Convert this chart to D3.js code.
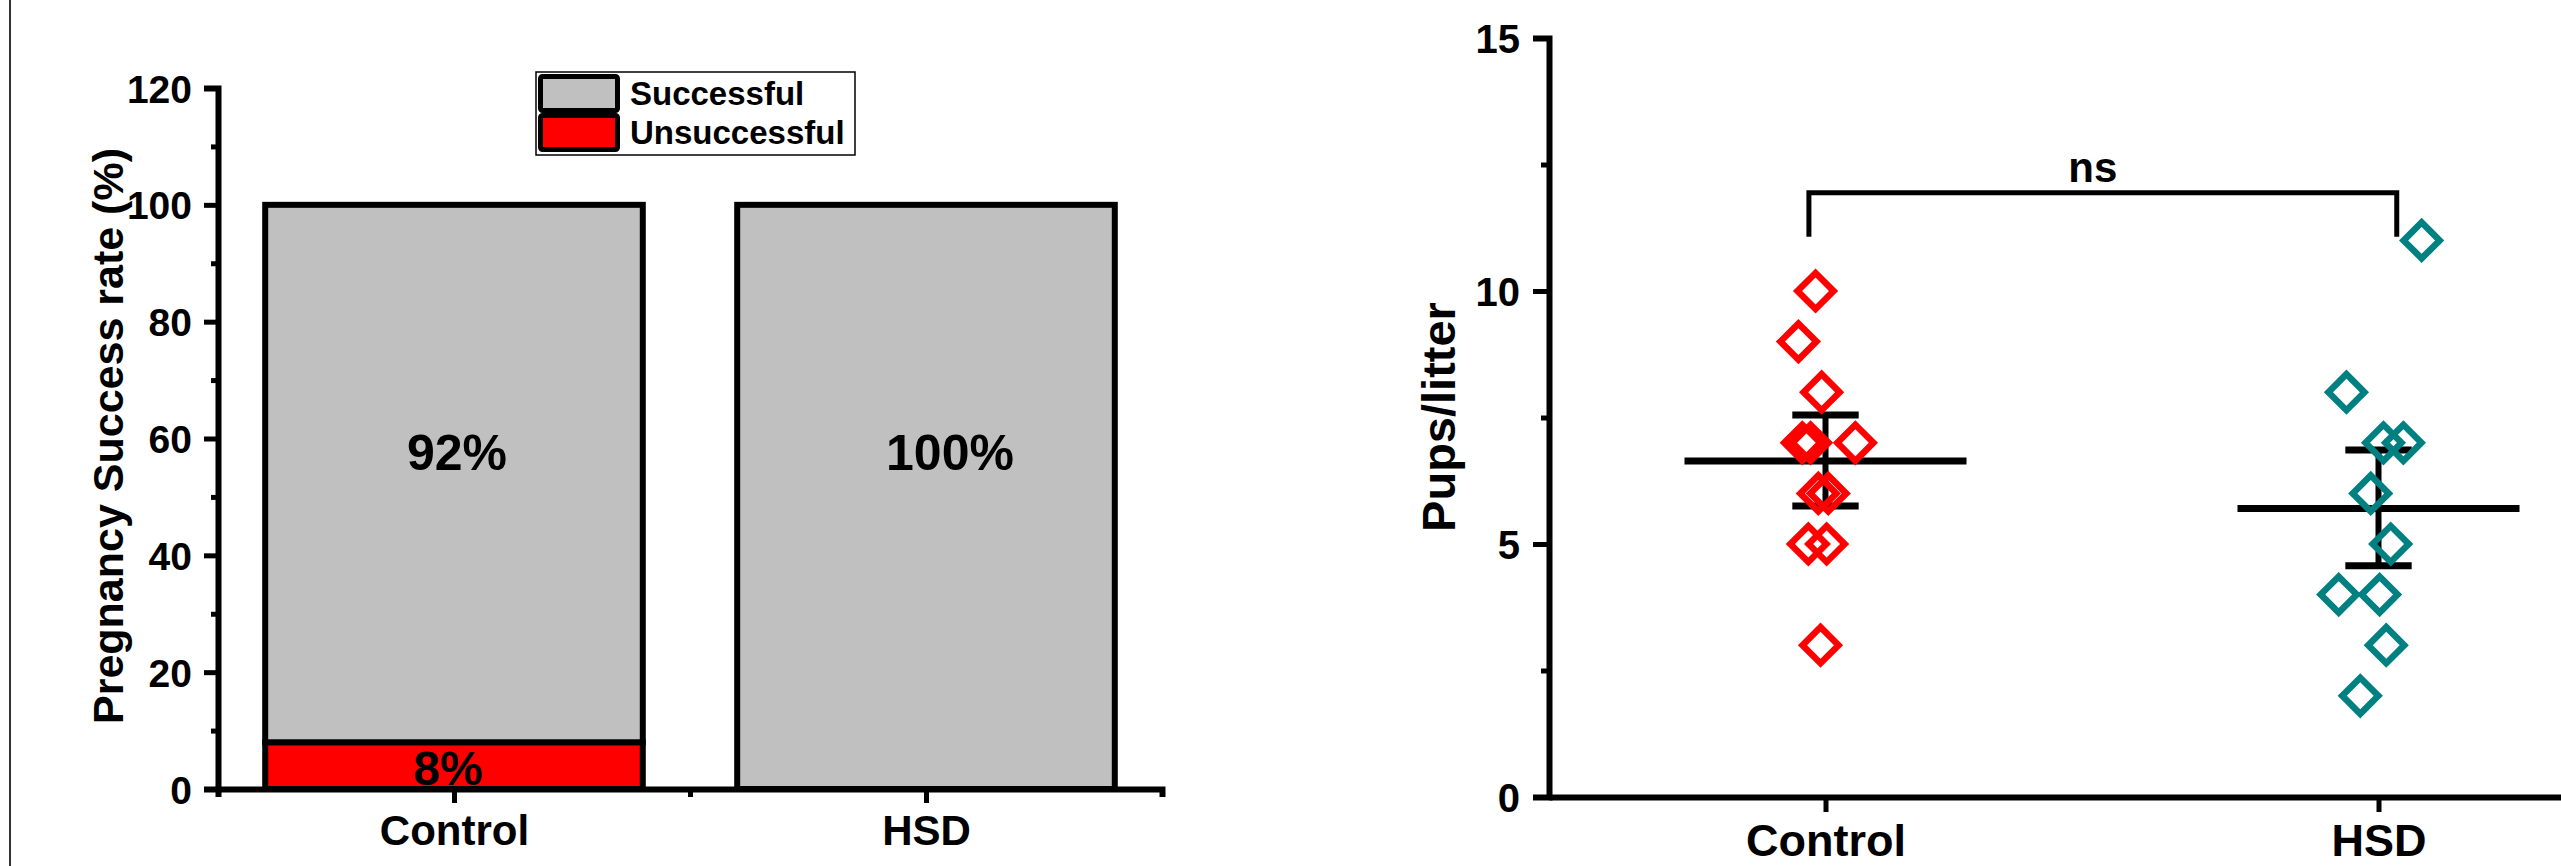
<!DOCTYPE html>
<html>
<head>
<meta charset="utf-8">
<script src="https://cdn.jsdelivr.net/npm/d3@7"></script>
<style>
body { margin: 0; background: #fff; }
svg text { font-family: "Liberation Sans", Arial, sans-serif; font-weight: bold; fill: #000; }
</style>
</head>
<body>
<div id="viz"></div>
<script>
// left panel: pregnancy success
const groups = ["Control", "HSD"];
const unsuccessful = [8, 0];
const successful = [92, 100];
const leftTicks = [0, 20, 40, 60, 80, 100, 120];
const leftMinor = [10, 30, 50, 70, 90, 110];

// right panel: pups per litter (jitter, in category units)
const ctrlPups = [10, 9, 8, 7, 7, 7, 6, 6, 5, 5, 3];
const ctrlJitter = [-0.018, -0.049, -0.007, -0.042, -0.027, 0.054, -0.013, 0.005, -0.031, 0.002, -0.009];
const hsdPups = [11, 8, 7, 7, 6, 5, 4, 4, 3, 2];
const hsdJitter = [0.078, -0.058, 0.009, 0.045, -0.014, 0.022, -0.072, 0.002, 0.014, -0.033];
const means = [6.64, 5.7];
const errLow = [5.75, 4.57];
const errHigh = [7.55, 6.86];
const rightTicks = [0, 5, 10, 15];
const rightMinor = [2.5, 7.5, 12.5];
const sigLabel = "ns";

const W = 2561, H = 866;
const svg = d3.select("#viz").append("svg")
  .attr("width", W).attr("height", H);

// thin frame line at the left edge
svg.append("line")
  .attr("x1", 10).attr("x2", 10).attr("y1", 0).attr("y2", H)
  .attr("stroke", "#333").attr("stroke-width", 2);

// ---------- left chart ----------
const yL = d3.scaleLinear().domain([0, 120]).range([789, 88]);
const xL = d3.scaleLinear().domain([0, 2]).range([218, 1162]);
const xBand = d3.scaleBand().domain(groups).range([218, 1162])
  .paddingInner(0.2).paddingOuter(0.1);

const rows = groups.map((g, i) => ({group: g, Unsuccessful: unsuccessful[i], Successful: successful[i]}));
const keys = ["Unsuccessful", "Successful"];
const colors = {Unsuccessful: "#ff0000", Successful: "#c0c0c0"};
const layers = d3.stack().keys(keys)(rows);

const barG = svg.append("g");
layers.forEach(layer => {
  barG.selectAll(null)
    .data(layer.filter(d => d[1] - d[0] > 0))
    .join("rect")
    .attr("x", d => xBand(d.data.group))
    .attr("y", d => yL(d[1]))
    .attr("width", xBand.bandwidth())
    .attr("height", d => yL(d[0]) - yL(d[1]))
    .attr("fill", colors[layer.key])
    .attr("stroke", "#000")
    .attr("stroke-width", 6);

  barG.selectAll(null)
    .data(layer.filter(d => d[1] - d[0] > 0))
    .join("text")
    .attr("x", d => xBand(d.data.group) + xBand.bandwidth() / 2)
    .attr("dx", d => layer.key == "Successful" && d.data.group == "HSD" ? 24 : (layer.key == "Successful" ? 3 : -6))
    .attr("y", d => layer.key == "Successful" ? yL(d[1]) + 265 : yL(d[0]) - 4)
    .attr("text-anchor", "middle")
    .style("font-size", layer.key == "Successful" ? "50px" : "48px")
    .text(d => (d[1] - d[0]) + "%");
});

function styleAxis(g, lw, fs) {
  g.attr("font-family", null).attr("font-size", null);
  g.select(".domain").attr("stroke-width", lw);
  g.selectAll(".tick line").attr("stroke-width", lw - 1);
  g.selectAll("text").style("font-size", fs + "px");
}

const gyL = svg.append("g").attr("transform", "translate(218,0)")
  .call(d3.axisLeft(yL).tickValues(leftTicks).tickSize(14).tickSizeOuter(14).tickPadding(12));
styleAxis(gyL, 6, 39);
gyL.selectAll("text").attr("dy", "0.36em");

const gyLm = svg.append("g").attr("transform", "translate(218,0)")
  .call(d3.axisLeft(yL).tickValues(leftMinor).tickSize(7).tickFormat(""));
gyLm.select(".domain").remove();
gyLm.selectAll(".tick line").attr("stroke-width", 5);

const gxL = svg.append("g").attr("transform", "translate(0,789)")
  .call(d3.axisBottom(xL).tickValues([0.5, 1.5]).tickFormat((d, i) => groups[i]).tickSize(14).tickSizeOuter(8));
styleAxis(gxL, 6, 42);
gxL.selectAll("text").attr("y", 56).attr("dy", 0);

const gxLm = svg.append("g").attr("transform", "translate(0,789)")
  .call(d3.axisBottom(xL).tickValues([1]).tickSize(8).tickFormat(""));
gxLm.select(".domain").remove();
gxLm.selectAll(".tick line").attr("stroke-width", 5);

svg.append("text")
  .attr("transform", "translate(123,436) rotate(-90)")
  .attr("text-anchor", "middle")
  .style("font-size", "43px")
  .text("Pregnancy Success rate (%)");

// legend
const leg = svg.append("g").attr("transform", "translate(536,72)");
leg.append("rect").attr("width", 319).attr("height", 83)
  .attr("fill", "#fff").attr("stroke", "#000").attr("stroke-width", 1.5);
["Successful", "Unsuccessful"].forEach((k, i) => {
  leg.append("rect")
    .attr("x", 4.5).attr("y", 4.5 + i * 39)
    .attr("width", 77).attr("height", 34)
    .attr("rx", 2)
    .attr("fill", colors[k]).attr("stroke", "#000").attr("stroke-width", 5);
  leg.append("text")
    .attr("x", 94).attr("y", 33 + i * 39)
    .style("font-size", "33px")
    .text(k);
});

// ---------- right chart ----------
const yR = d3.scaleLinear().domain([0, 15]).range([797, 38]);
const xR = d3.scaleLinear().domain([0, 2]).range([1549, 2655]);
const ptColors = ["#ff0000", "#008080"];

const gyR = svg.append("g").attr("transform", "translate(1549,0)")
  .call(d3.axisLeft(yR).tickValues(rightTicks).tickSize(16).tickSizeOuter(16).tickPadding(13));
styleAxis(gyR, 6, 40);
gyR.selectAll("text").attr("dy", "0.36em");

const gyRm = svg.append("g").attr("transform", "translate(1549,0)")
  .call(d3.axisLeft(yR).tickValues(rightMinor).tickSize(8).tickFormat(""));
gyRm.select(".domain").remove();
gyRm.selectAll(".tick line").attr("stroke-width", 5);

const gxR = svg.append("g").attr("transform", "translate(0,797)")
  .call(d3.axisBottom(xR).tickValues([0.5, 1.5]).tickFormat((d, i) => groups[i]).tickSize(15).tickSizeOuter(0));
styleAxis(gxR, 6, 45);
gxR.selectAll("text").attr("y", 59).attr("dy", 0);

svg.append("text")
  .attr("transform", "translate(1455,417) rotate(-90)")
  .attr("text-anchor", "middle")
  .style("font-size", "47px")
  .text("Pups/litter");

// mean and error bars
const statG = svg.append("g").attr("stroke", "#000");
means.forEach((m, i) => {
  const c = i + 0.5;
  statG.append("line")
    .attr("x1", xR(c - 0.255)).attr("x2", xR(c + 0.255))
    .attr("y1", yR(m)).attr("y2", yR(m))
    .attr("stroke-width", 7);
  statG.append("line")
    .attr("x1", xR(c)).attr("x2", xR(c))
    .attr("y1", yR(errLow[i])).attr("y2", yR(errHigh[i]))
    .attr("stroke-width", 6);
  [errLow[i], errHigh[i]].forEach(v => {
    statG.append("line")
      .attr("x1", xR(c - 0.06)).attr("x2", xR(c + 0.06))
      .attr("y1", yR(v)).attr("y2", yR(v))
      .attr("stroke-width", 7);
  });
});

// points
const pts = ctrlPups.map((v, i) => ({g: 0, v: v, j: ctrlJitter[i]}))
  .concat(hsdPups.map((v, i) => ({g: 1, v: v, j: hsdJitter[i]})));
svg.append("g").selectAll("path")
  .data(pts)
  .join("path")
  .attr("d", d3.symbol(d3.symbolSquare, 650))
  .attr("transform", d => `translate(${xR(d.g + 0.5 + d.j)},${yR(d.v)}) rotate(45)`)
  .attr("fill", "none")
  .attr("stroke", d => ptColors[d.g])
  .attr("stroke-width", 6.5);

// significance bracket
const bx0 = xR(0.47), bx1 = xR(1.533), by = yR(11.94), byLow = yR(11.07);
svg.append("path")
  .attr("d", `M${bx0},${byLow}V${by}H${bx1}V${byLow}`)
  .attr("fill", "none").attr("stroke", "#000").attr("stroke-width", 5);
svg.append("text")
  .attr("x", (bx0 + bx1) / 2 - 10).attr("y", by - 11)
  .attr("text-anchor", "middle")
  .style("font-size", "42px")
  .text(sigLabel);
</script>
</body>
</html>
